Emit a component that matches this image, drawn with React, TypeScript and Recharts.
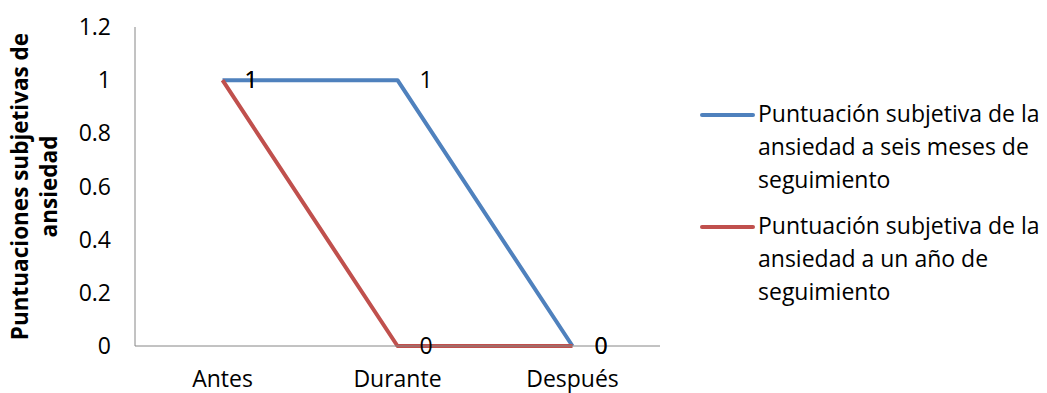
import React from "react";
import { LineChart, Line, XAxis, YAxis, LabelList } from "recharts";

const categories = ["Antes", "Durante", "Después"];
const seisMeses = [1, 1, 0];
const unAno = [1, 0, 0];
const yTicks = [0, 0.2, 0.4, 0.6, 0.8, 1, 1.2];

const seriesNames = [
  ["Puntuación subjetiva de la", "ansiedad a seis meses de", "seguimiento"],
  ["Puntuación subjetiva de la", "ansiedad a un año de", "seguimiento"],
];

const BLUE = "#4F81BD";
const RED = "#C0504D";
const FONT = "'Open Sans', sans-serif";
const FS = 23;

const data = categories.map((c, i) => ({
  name: c,
  seis: seisMeses[i],
  ano: unAno[i],
}));

const renderValue = (props: any) => {
  const { x, y, value } = props;
  return (
    <text x={x + 22} y={y} dy="0.36em" fontSize={FS} fontFamily={FONT} fill="#000">
      {value}
    </text>
  );
};

// two-line rotated axis title
const YLabel = (props: any) => {
  const vb = props.viewBox || { x: 0, y: 27, width: 0, height: 319 };
  const cy = vb.y + vb.height / 2;
  return (
    <g fontFamily={FONT} fontWeight="bold" fontSize={22.5} fill="#000">
      <text x={28} y={cy} transform={`rotate(-90, 28, ${cy})`} textAnchor="middle">
        Puntuaciones subjetivas de
      </text>
      <text x={57} y={cy} transform={`rotate(-90, 57, ${cy})`} textAnchor="middle">
        ansiedad
      </text>
    </g>
  );
};

const ChartLegend = () => (
  <div
    style={{
      position: "absolute",
      left: 700,
      top: 97,
      fontFamily: FONT,
      fontSize: FS,
      color: "#000",
    }}
  >
    {seriesNames.map((lines, i) => (
      <div key={i} style={{ display: "flex", alignItems: "flex-start", marginBottom: 13 }}>
        <div
          style={{
            width: 55,
            height: 4,
            borderRadius: 2,
            background: i === 0 ? BLUE : RED,
            marginTop: 16,
            flexShrink: 0,
          }}
        />
        <div style={{ lineHeight: "33px", marginLeft: 3 }}>
          {lines.map((l, j) => (
            <div key={j} style={{ whiteSpace: "nowrap" }}>{l}</div>
          ))}
        </div>
      </div>
    ))}
  </div>
);

export default function App() {
  return (
    <div style={{ position: "absolute", left: 0, top: 0, width: 1047, height: 393, background: "#fff" }}>
      <LineChart
        width={1047}
        height={393}
        data={data}
        margin={{ top: 27, right: 387, bottom: 0, left: 65 }}
      >
        <XAxis
          dataKey="name"
          padding={{ left: 87.5, right: 87.5 }}
          tickLine={false}
          axisLine={{ stroke: "#868686" }}
          tick={{ fill: "#000", fontSize: FS, fontFamily: FONT }}
          tickMargin={19}
          height={47}
        />
        <YAxis
          domain={[0, 1.2]}
          ticks={yTicks}
          tickLine={false}
          axisLine={{ stroke: "#868686" }}
          tick={{ fill: "#000", fontSize: FS, fontFamily: FONT }}
          tickMargin={18}
          width={70}
          label={{ content: YLabel }}
        />
        <Line
          dataKey="seis"
          stroke={BLUE}
          strokeWidth={4}
          dot={false}
          activeDot={false}
          isAnimationActive={false}
          strokeLinejoin="round"
        >
          <LabelList dataKey="seis" content={renderValue} />
        </Line>
        <Line
          dataKey="ano"
          stroke={RED}
          strokeWidth={4}
          dot={false}
          activeDot={false}
          isAnimationActive={false}
          strokeLinejoin="round"
        >
          <LabelList dataKey="ano" content={renderValue} />
        </Line>
      </LineChart>
      <ChartLegend />
    </div>
  );
}
